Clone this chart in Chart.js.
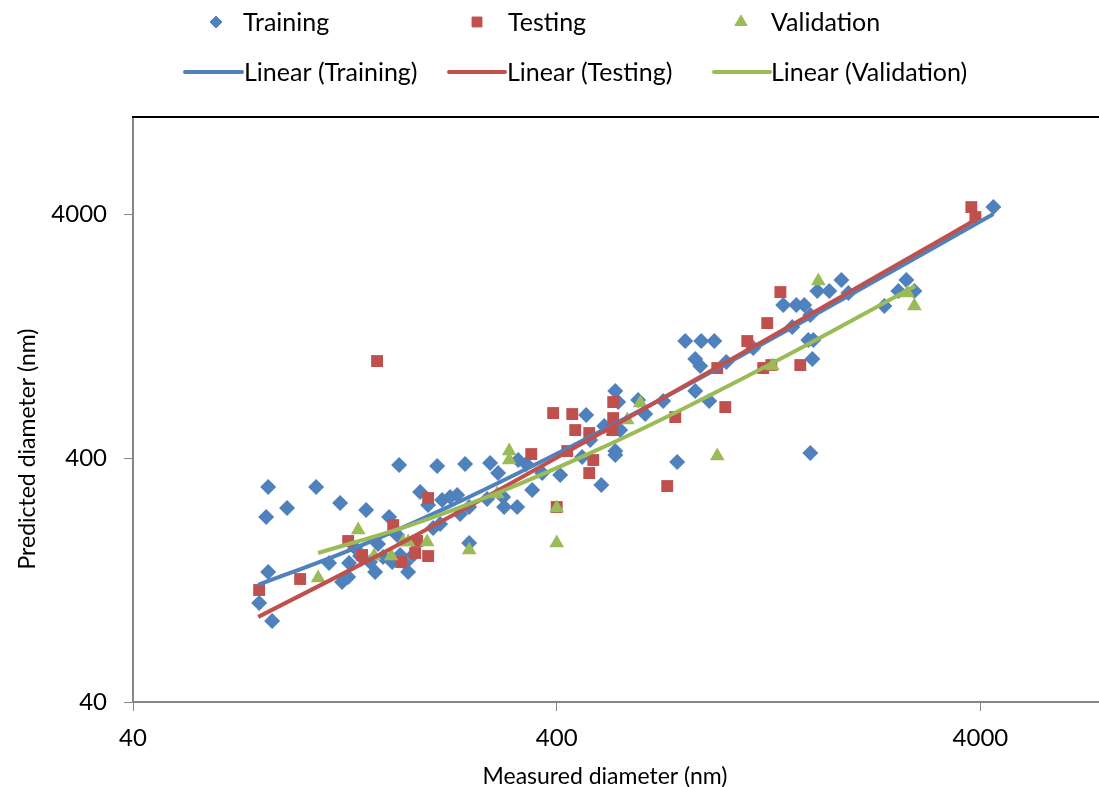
<!DOCTYPE html>
<html><head><meta charset="utf-8">
<script src="https://cdn.jsdelivr.net/npm/chart.js@4.4.1/dist/chart.umd.min.js"></script>
<style>
html,body{margin:0;padding:0;overflow:hidden;background:#fff;width:1099px;height:787px;}
#wrap{position:absolute;left:0;top:0;width:1160px;height:787px;}
canvas{display:block;}
</style></head><body>
<div id="wrap"><canvas id="c" width="1160" height="787"></canvas></div>
<script>
// ---- data (nm) ----
const trainingX = [79.4,85.2,83.4,82.5,83.4,92.4,108.2,116.1,123.3,124.6,128.8,129.4,133.8,137.4,142.0,145.1,149.1,151.5,155.7,160.9,163.6,168.1,169.9,170.8,175.5,178.4,183.3,190.4,198.9,204.4,208.9,212.3,214.6,224.2,232.9,236.7,243.2,248.6,248.6,274.1,278.6,291.0,299.1,300.6,322.7,324.5,338.9,350.1,369.7,407.7,459.3,469.6,480.0,509.7,518.0,550,550,550,558.8,564.8,622.8,647.2,713.6,770.0,804.4,877.6,942.0,849.2,849.2,872.8,916.4,1005,1164,1370,1439,1471,1536,1587,1570,1614,1605,1587,1649,1760,1879,1952,2374,2561,2675,2794,4293];
const trainingY = [101.8,85.9,136.4,229.2,304.2,249.5,304.2,148.5,261.6,124.1,130.1,148.5,171.1,158.6,244.8,149.9,136.4,177.6,157.2,229.2,149.9,193.4,374.4,160.2,148.5,136.4,160.2,290.2,256.7,206.6,370.9,214.6,269.1,276.8,282.1,235.8,378.0,179.4,251.9,271.7,381.6,347.2,276.8,251.9,251.9,392.5,378.0,295.7,347.2,340.8,403.8,600.4,474.1,310.0,541.1,752.8,427.3,411.5,678.4,520.9,691.6,605.9,684.9,385.2,1207,1207,1207,1018,752.8,953,684.9,989.7,1129,1695,1377,1695,1695,1542,1218,1218,1018,419.3,1934,1934,2146,1898,1679,1934,2146,1934,4273];

const testingX = [79.4,99.2,128.8,138.9,150.7,164.5,171.8,185.4,187.4,198.9,198.9,348.3,392.4,435.3,442.4,423.6,477.4,488.0,477.4,400,543.8,543.8,540.9,729.3,761.9,957.2,999.9,1127,1229,1256,1284,1349,1503,3808,3893];
const testingY = [115.1,127.7,182.8,160.2,999.2,212.5,149.9,163.2,182.8,158.6,274.2,415.3,611.7,605.9,520.9,427.3,506.5,392.5,347.2,251.9,678.4,583.3,520.9,307.1,588.9,935.2,647.2,1207,935.2,1430,962.0,1916,962.0,4273,3888];

const validationX = [109.4,136.0,148.3,162.7,173.6,178.4,197.8,248.6,289.4,309.0,309.0,400,400,586.9,629.9,957.2,1291,1658,2690,2794];
const validationY = [128.9,202.8,158.6,158.6,181.0,181.0,181.0,167.9,284.7,427.3,392.5,249.5,179.4,572.4,672.0,407.6,953,2125,1898,1679];

// trendlines (points along each drawn line)
const trendTrainingX = [79,130,220,400,800,1600,4293];
const trendTrainingY = [120.8,167.8,250.6,416.3,784.6,1521,4000];
const trendTestingX = [79,150,300,600,1200,2400,3957];
const trendTestingY = [89.3,158.1,303.7,594.8,1177,2341,3852];
const trendValidationX = [109.4,180,300,500,800,1400,2808];
const trendValidationY = [163.2,212,294.9,433.1,640.4,1055,2028];

const xTicks = [40,400,4000];
const yTicks = [40,400,4000];
const seriesNames = ['Training','Testing','Validation'];
const trendNames = ['Linear (Training)','Linear (Testing)','Linear (Validation)'];
const xTitle = 'Measured diameter (nm)';
const yTitle = 'Predicted diameter (nm)';

const BLUE='#4F81BD', RED='#C0504D', GREEN='#9BBB59';
const FONT='Lato';

const pts = (xs,ys)=>xs.map((x,i)=>({x:x,y:ys[i]}));

const decor = {
  id:'decor',
  afterDraw(chart){
    const ctx=chart.ctx, a=chart.chartArea;
    ctx.save();
    // top border
    ctx.strokeStyle='#000'; ctx.lineWidth=2;
    ctx.beginPath(); ctx.moveTo(a.left-1,a.top); ctx.lineTo(a.right,a.top); ctx.stroke();
    // legend
    ctx.font='25px '+FONT; ctx.fillStyle='#000'; ctx.textBaseline='middle'; ctx.textAlign='left';
    const r1y=22, r2y=72;
    const mk=[{x:216,t:243,style:'rectRot',r:6,c:BLUE},{x:477,t:508,style:'rect',r:7,c:RED},{x:741,t:771,style:'triangle',r:7,c:GREEN}];
    mk.forEach((m,i)=>{
      ctx.fillStyle=m.c; ctx.strokeStyle=m.c; ctx.lineWidth=1;
      Chart.helpers.drawPoint(ctx,{pointStyle:m.style,radius:m.r,borderWidth:1,rotation:0},m.x,r1y);
      ctx.fillStyle='#000';
      ctx.fillText(seriesNames[i],m.t,r1y+1);
    });
    const ln=[{x1:185,x2:242,t:244,c:BLUE},{x1:449,x2:505,t:507,c:RED},{x1:714,x2:770,t:771,c:GREEN}];
    ln.forEach((l,i)=>{
      ctx.strokeStyle=l.c; ctx.lineWidth=4; ctx.lineCap='round';
      ctx.beginPath(); ctx.moveTo(l.x1,r2y); ctx.lineTo(l.x2,r2y); ctx.stroke();
      ctx.fillStyle='#000';
      ctx.fillText(trendNames[i],l.t,r2y+1);
    });
    // axis titles
    ctx.font='23px '+FONT;
    ctx.textAlign='center';
    ctx.fillText(xTitle,605,777);
    ctx.translate(28,449); ctx.rotate(-Math.PI/2);
    ctx.fillText(yTitle,0,0);
    ctx.restore();
  }
};

const axisCommon = (ticks)=>({
  type:'logarithmic', min:40, max:10000,
  afterBuildTicks:(ax)=>{ ax.ticks = ticks.map(v=>({value:v})); },
  grid:{display:true, drawOnChartArea:false, drawTicks:true, tickLength:9, color:'#868686', lineWidth:1},
  border:{display:true, color:'#868686', width:2},
  ticks:{color:'#000', font:{family:FONT,size:24}, callback:(v)=>String(v), autoSkip:false, maxRotation:0},
  title:{display:false}
});

const xAxis = axisCommon(xTicks);
xAxis.position='bottom';
xAxis.ticks.padding=13;
xAxis.afterFit=(ax)=>{ ax.height=85; };
const yAxis = axisCommon(yTicks);
yAxis.position='left';
yAxis.ticks.padding=17;
yAxis.afterFit=(ax)=>{ ax.width=133; };

new Chart(document.getElementById('c'),{
  type:'scatter',
  data:{datasets:[
    {label:seriesNames[0], data:pts(trainingX,trainingY), pointStyle:'rectRot', pointRadius:8, backgroundColor:BLUE, borderColor:BLUE, borderWidth:0, order:6},
    {label:seriesNames[1], data:pts(testingX,testingY), pointStyle:'rect', pointRadius:8.4, backgroundColor:RED, borderColor:RED, borderWidth:0, order:5},
    {label:seriesNames[2], data:pts(validationX,validationY), pointStyle:'triangle', pointRadius:8.5, backgroundColor:GREEN, borderColor:GREEN, borderWidth:0, order:4},
    {label:trendNames[0], type:'line', data:pts(trendTrainingX,trendTrainingY), showLine:true, borderColor:BLUE, borderWidth:4, pointRadius:0, fill:false, cubicInterpolationMode:'monotone', order:3},
    {label:trendNames[1], type:'line', data:pts(trendTestingX,trendTestingY), showLine:true, borderColor:RED, borderWidth:4, pointRadius:0, fill:false, cubicInterpolationMode:'monotone', order:2},
    {label:trendNames[2], type:'line', data:pts(trendValidationX,trendValidationY), showLine:true, borderColor:GREEN, borderWidth:4, pointRadius:0, fill:false, cubicInterpolationMode:'monotone', order:1}
  ]},
  options:{
    responsive:false, animation:false, devicePixelRatio:1,
    layout:{padding:{top:117,left:0,right:11,bottom:0}},
    plugins:{legend:{display:false}, tooltip:{enabled:false}},
    scales:{x:xAxis, y:yAxis}
  },
  plugins:[decor]
});
</script>
</body></html>
